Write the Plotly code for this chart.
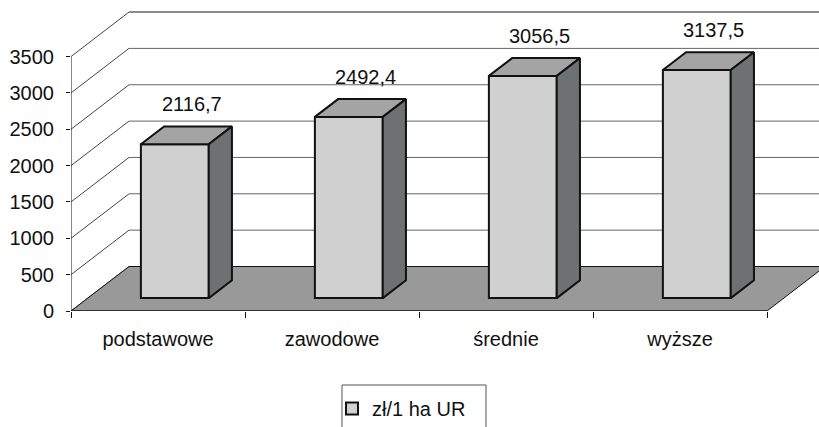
import plotly.graph_objects as go

# ---- data ----
categories = ["podstawowe", "zawodowe", "średnie", "wyższe"]
values = [2116.7, 2492.4, 3056.5, 3137.5]
series_name = "zł/1 ha UR"
y_ticks = [0, 500, 1000, 1500, 2000, 2500, 3000, 3500]

# ---- geometry / style ----
W, H = 819, 427
ML, MB = 71, 116
PX_X = 174.0          # px per category unit
PX_Y = 0.0727         # px per value unit
X_MAX = (W - ML) / PX_X
Y_MAX = (H - MB) / PX_Y
DX = 58 / PX_X        # wall depth in x units
DY = 44.5 / PX_Y      # wall depth in value units
F0, F1 = 0.29, 0.69   # bar depth (fraction of wall depth)
BW = 0.39             # bar width
FONT = "Liberation Sans, Arial, sans-serif"
FS = 20

n = len(categories)
front_x = [i + 0.5 + F0 * DX for i in range(n)]
base = F0 * DY
d = F1 - F0

fig = go.Figure()

# front faces (bars)
fig.add_trace(go.Bar(
    x=front_x, y=values, base=[base] * n, width=BW,
    marker=dict(color="#d0d0d0", line=dict(color="#111111", width=2)),
    name=series_name, showlegend=True, hoverinfo="skip"))

# top and side faces
top_x, top_y, side_x, side_y = [], [], [], []
for i, v in enumerate(values):
    xl = front_x[i] - BW / 2
    xr = front_x[i] + BW / 2
    t = base + v
    top_x += [xl, xr, xr + d * DX, xl + d * DX, xl, None]
    top_y += [t, t, t + d * DY, t + d * DY, t, None]
    side_x += [xr, xr + d * DX, xr + d * DX, xr, xr, None]
    side_y += [base, base + d * DY, t + d * DY, t, base, None]

fig.add_trace(go.Scatter(x=top_x, y=top_y, mode="lines", fill="toself",
                         fillcolor="#a4a4a4", line=dict(color="#111111", width=2),
                         showlegend=False, hoverinfo="skip"))
fig.add_trace(go.Scatter(x=side_x, y=side_y, mode="lines", fill="toself",
                         fillcolor="#6d7171", line=dict(color="#111111", width=2),
                         showlegend=False, hoverinfo="skip"))

shapes = []
# back wall gridlines + diagonals on side wall
for v in y_ticks:
    shapes.append(dict(type="line", xref="x", yref="y", x0=DX, y0=v + DY,
                       x1=n + DX + 0.2, y1=v + DY, layer="below",
                       line=dict(color="#666666", width=1.5 if v == y_ticks[-1] else 1)))
    shapes.append(dict(type="line", xref="x", yref="y", x0=0, y0=v,
                       x1=DX, y1=v + DY, layer="below",
                       line=dict(color="#444444", width=1)))
# floor
shapes.append(dict(type="path", xref="x", yref="y", layer="below",
                   path=f"M0,0 L{n},0 L{n + DX},{DY} L{DX},{DY} Z",
                   fillcolor="#999999", line=dict(color="#111111", width=1)))
# front value axis line
shapes.append(dict(type="line", xref="x", yref="y", x0=0, y0=0, x1=0, y1=y_ticks[-1],
                   layer="above", line=dict(color="#111111", width=1)))
# category axis line
shapes.append(dict(type="line", xref="x", yref="y", x0=0, y0=0, x1=n, y1=0,
                   layer="above", line=dict(color="#111111", width=1)))
# legend frame
shapes.append(dict(type="rect", xref="paper", yref="paper",
                   x0=(342 - ML) / (W - ML), x1=(486 - ML) / (W - ML),
                   y0=(H - MB - 385) / (H - MB), y1=(H - MB - 445) / (H - MB),
                   line=dict(color="#555555", width=1), layer="above"))

annotations = []
for i, v in enumerate(values):
    annotations.append(dict(
        x=i + 0.5 + (F0 + F1) / 2 * DX + 0.03, y=v + F1 * DY + 305,
        xref="x", yref="y", text=f"{v:.1f}".replace(".", ","), showarrow=False,
        font=dict(family=FONT, size=FS, color="#111111"),
        xanchor="center", yanchor="middle"))

fig.update_layout(
    width=W, height=H,
    margin=dict(l=ML, r=0, t=0, b=MB, pad=0, autoexpand=False),
    paper_bgcolor="white", plot_bgcolor="white",
    font=dict(family=FONT, size=FS, color="#111111"),
    shapes=shapes, annotations=annotations,
    bargap=0,
    showlegend=True,
    legend=dict(orientation="h", xref="container", yref="container",
                x=332 / W, xanchor="left",
                y=1 - 389 / H, yanchor="top",
                bgcolor="rgba(0,0,0,0)", borderwidth=0,
                font=dict(family=FONT, size=FS, color="#111111")),
    xaxis=dict(range=[0, X_MAX], showgrid=False, zeroline=False, showline=False,
               automargin=False,
               tickvals=[i + 0.5 for i in range(n)], ticktext=categories,
               ticks="", ticklabelstandoff=14,
               minor=dict(tickvals=list(range(n + 1)), ticks="outside",
                          ticklen=6, tickcolor="#111111", tickwidth=1),
               fixedrange=True),
    yaxis=dict(range=[0, Y_MAX], showgrid=False, zeroline=False, showline=False,
               automargin=False,
               tickvals=y_ticks, ticktext=[str(t) for t in y_ticks],
               ticks="outside", ticklen=4, tickcolor="#111111",
               ticklabelstandoff=8, fixedrange=True),
)

fig.write_html("out.html", config={"displayModeBar": False, "staticPlot": True},
               post_script="document.body.style.margin='0';document.body.style.overflow='hidden';")
